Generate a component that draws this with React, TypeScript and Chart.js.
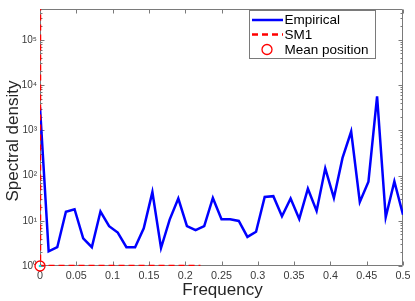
import React, { useEffect, useRef } from "react";
import { Chart, registerables } from "chart.js";

Chart.register(...registerables);

const FONT = "'Liberation Sans', Arial, Helvetica, sans-serif";

// Frequencies of the empirical spectrum
const frequencies = [
  0, 0.0119, 0.0238, 0.0357, 0.0476, 0.0595, 0.0714, 0.0833, 0.0952, 0.1071,
  0.119, 0.131, 0.1429, 0.1548, 0.1667, 0.1786, 0.1905, 0.2024, 0.2143, 0.2262,
  0.2381, 0.25, 0.2619, 0.2738, 0.2857, 0.2976, 0.3095, 0.3214, 0.3333, 0.3452,
  0.3571, 0.369, 0.381, 0.3929, 0.4048, 0.4167, 0.4286, 0.4405, 0.4524, 0.4643,
  0.4762, 0.4881, 0.5,
];

// Empirical spectral density values
const empirical = [
  3200, 2.1, 2.6, 15.8, 18, 4.1, 2.6, 16, 7.6, 5.5,
  2.6, 2.6, 6.8, 43, 2.5, 10.6, 31, 7.6, 6.2, 7.6,
  32, 10.8, 10.8, 9.9, 4.4, 5.7, 33.6, 35, 12.6, 31,
  11, 51, 16.5, 144, 32, 245, 940, 26, 73, 5600,
  12, 74, 13.6,
];

// SM1 model curve
const smFrequencies = [0, 0, 0.221];
const smValues = [1e6, 1, 1];

// Mean position marker
const meanFrequency = [0];
const meanValue = [1];

// small cyan marker at origin
const originFrequency = [0];
const originValue = [1];

const xTicks = [0, 0.05, 0.1, 0.15, 0.2, 0.25, 0.3, 0.35, 0.4, 0.45, 0.5];
const yTicks = [1, 10, 100, 1000, 10000, 100000];
const yTickLabels = ["10\u2070", "10\u00B9", "10\u00B2", "10\u00B3", "10\u2074", "10\u2075"];
const Y_MIN = 1;
const Y_MAX = 4.8e5;

const legendLabels = ["Empirical", "SM1", "Mean position"];

const matlabAxes = {
  id: "matlabAxes",
  beforeDatasetsDraw(chart: any) {
    const { ctx, chartArea: a, scales } = chart;
    const xs = scales.x;
    const ys = scales.y;
    const L = Math.round(a.left) + 0.5;
    const R = Math.round(a.right) - 0.5;
    const T = Math.round(a.top) + 0.5;
    const B = Math.round(a.bottom) - 0.5;
    ctx.save();
    ctx.strokeStyle = "#7a7a7a";
    ctx.lineWidth = 1;
    ctx.beginPath();
    ctx.moveTo(L, T);
    ctx.lineTo(R, T);
    ctx.lineTo(R, B);
    ctx.lineTo(L, B);
    ctx.closePath();
    ctx.stroke();
    ctx.beginPath();
    for (const v of xTicks) {
      const px = Math.round(xs.getPixelForValue(v)) + 0.5;
      ctx.moveTo(px, B);
      ctx.lineTo(px, B - 4);
      ctx.moveTo(px, T);
      ctx.lineTo(px, T + 4);
    }
    for (const v of yTicks) {
      const py = Math.round(ys.getPixelForValue(v)) + 0.5;
      ctx.moveTo(L, py);
      ctx.lineTo(L + 4, py);
      ctx.moveTo(R, py);
      ctx.lineTo(R - 4, py);
    }
    for (let d = 0; d <= 5; d++) {
      for (let m = 2; m <= 9; m++) {
        const v = m * Math.pow(10, d);
        if (v > Y_MAX) continue;
        const py = Math.round(ys.getPixelForValue(v)) + 0.5;
        ctx.moveTo(L, py);
        ctx.lineTo(L + 2, py);
        ctx.moveTo(R, py);
        ctx.lineTo(R - 2, py);
      }
    }
    ctx.stroke();
    ctx.restore();
  },
  afterDraw(chart: any) {
    const { ctx, chartArea: a } = chart;
    ctx.save();
    // axis titles
    ctx.fillStyle = "#262626";
    ctx.font = `17px ${FONT}`;
    ctx.textAlign = "center";
    ctx.textBaseline = "alphabetic";
    ctx.fillText("Frequency", (a.left + a.right) / 2 + 1, 295);
    ctx.save();
    ctx.translate(17.5, 141);
    ctx.rotate(-Math.PI / 2);
    ctx.fillText("Spectral density", 0, 0);
    ctx.restore();

    // legend
    const bx = 249.5, by = 10.5, bw = 126, bh = 48;
    ctx.fillStyle = "#ffffff";
    ctx.fillRect(bx, by, bw, bh);
    ctx.strokeStyle = "#7a7a7a";
    ctx.lineWidth = 1;
    ctx.strokeRect(bx, by, bw, bh);
    const rows = [20, 34.5, 49.5];
    // Empirical
    ctx.strokeStyle = "#0000ff";
    ctx.lineWidth = 2.5;
    ctx.beginPath();
    ctx.moveTo(252, rows[0]);
    ctx.lineTo(283, rows[0]);
    ctx.stroke();
    // SM1
    ctx.strokeStyle = "#ff0000";
    ctx.setLineDash([6, 4]);
    ctx.beginPath();
    ctx.moveTo(252, rows[1]);
    ctx.lineTo(283, rows[1]);
    ctx.stroke();
    ctx.setLineDash([]);
    // Mean position
    ctx.lineWidth = 1.3;
    ctx.beginPath();
    ctx.arc(267, rows[2], 5, 0, Math.PI * 2);
    ctx.stroke();
    ctx.fillStyle = "#000000";
    ctx.font = `13.5px ${FONT}`;
    ctx.textAlign = "left";
    ctx.textBaseline = "middle";
    legendLabels.forEach((t, i) => ctx.fillText(t, 284.5, rows[i] + 0.5));
    ctx.restore();
  },
};

export default function App() {
  const ref = useRef<HTMLCanvasElement | null>(null);

  useEffect(() => {
    if (!ref.current) return;
    const chart = new Chart(ref.current, {
      type: "scatter",
      data: {
        datasets: [
          {
            label: "Empirical",
            data: frequencies.map((f, i) => ({ x: f, y: empirical[i] })),
            showLine: true,
            borderColor: "#0000ff",
            backgroundColor: "#0000ff",
            borderWidth: 2.5,
            pointRadius: 0,
            tension: 0,
            order: 4,
          },
          {
            label: "SM1",
            data: smFrequencies.map((f, i) => ({ x: f, y: smValues[i] })),
            showLine: true,
            borderColor: "#ff0000",
            backgroundColor: "#ff0000",
            borderWidth: 2.5,
            borderDash: [6, 4],
            pointRadius: 0,
            order: 3,
          },
          {
            label: "Mean position",
            data: meanFrequency.map((f, i) => ({ x: f, y: meanValue[i] })),
            showLine: false,
            pointRadius: 5,
            pointBorderColor: "#ff0000",
            pointBackgroundColor: "rgba(255,255,255,0)",
            pointBorderWidth: 1.3,
            clip: false,
            order: 2,
          },
          {
            label: "origin",
            data: originFrequency.map((f, i) => ({ x: f, y: originValue[i] })),
            showLine: false,
            pointRadius: 1.3,
            pointBorderWidth: 0,
            pointBackgroundColor: "#00e5e5",
            clip: false,
            order: 1,
          },
        ],
      },
      options: {
        animation: false,
        responsive: false,
        devicePixelRatio: 1,
        layout: { padding: { left: 0, top: 2, right: 12, bottom: 0 } },
        plugins: {
          legend: { display: false },
          tooltip: { enabled: false },
        },
        scales: {
          x: {
            type: "linear",
            min: 0,
            max: 0.5,
            grid: { display: false, drawTicks: false },
            border: { display: false },
            afterBuildTicks: (scale: any) => {
              scale.ticks = xTicks.map((v) => ({ value: v }));
            },
            afterFit: (scale: any) => {
              scale.height = 35;
            },
            ticks: {
              autoSkip: false,
              maxRotation: 0,
              padding: 4,
              color: "#3a3a3a",
              font: { family: FONT, size: 10.8 },
              callback: (v: any) => String(Number(Number(v).toFixed(2))),
            },
          },
          y: {
            type: "logarithmic",
            min: Y_MIN,
            max: Y_MAX,
            grid: { display: false, drawTicks: false },
            border: { display: false },
            afterBuildTicks: (scale: any) => {
              scale.ticks = yTicks.map((v) => ({ value: v }));
            },
            afterFit: (scale: any) => {
              scale.width = 40;
            },
            ticks: {
              autoSkip: false,
              padding: 3,
              color: "#3a3a3a",
              font: { family: FONT, size: 10 },
              callback: (v: any) => {
                const idx = yTicks.indexOf(Number(v));
                return idx >= 0 ? yTickLabels[idx] : "";
              },
            },
          },
        },
      },
      plugins: [matlabAxes],
    });
    return () => chart.destroy();
  }, []);

  return (
    <div style={{ position: "absolute", left: 0, top: 0, width: 415, height: 301 }}>
      <canvas ref={ref} width={415} height={301} style={{ display: "block" }} />
    </div>
  );
}
